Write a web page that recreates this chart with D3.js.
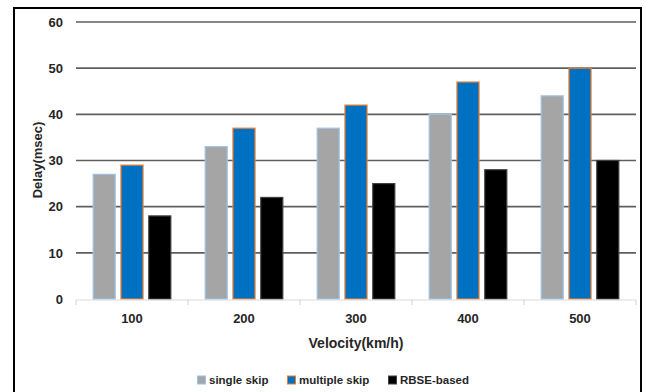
<!DOCTYPE html>
<html>
<head>
<meta charset="utf-8">
<script src="https://cdn.jsdelivr.net/npm/d3@7"></script>
<style>
  html, body { margin: 0; padding: 0; background: #fff; }
  svg { display: block; font-family: "Liberation Sans", Arial, sans-serif; }
</style>
</head>
<body>
<svg id="chart" width="646" height="392"></svg>
<script>
// Velocity categories (km/h)
const categories = ["100", "200", "300", "400", "500"];
// Series names
const seriesNames = ["single skip", "multiple skip", "RBSE-based"];
// Delay (msec) per series, one value per velocity
const singleSkip   = [27, 33, 37, 40, 44];
const multipleSkip = [29, 37, 42, 47, 50];
const rbseBased    = [18, 22, 25, 28, 30];
// Y-axis ticks
const yTicks = [0, 10, 20, 30, 40, 50, 60];

const seriesValues = [singleSkip, multipleSkip, rbseBased];
const fills   = ["#a5a5a5", "#0070c0", "#000000"];
const strokes = ["#9dc3e6", "#ed7d31", "#404040"];

const svg = d3.select("#chart");

// outer frame (open at the bottom)
svg.append("path")
  .attr("d", "M14,392 V8 H641 V392")
  .attr("fill", "none")
  .attr("stroke", "#000")
  .attr("stroke-width", 2);

const plot = { left: 76, right: 636, top: 22, bottom: 299 };

const x0 = d3.scaleBand().domain(categories).range([plot.left, plot.right]).padding(0);
const x1 = d3.scaleBand().domain(seriesNames).range([0, x0.bandwidth()])
  .paddingInner(0.17).paddingOuter(0.6);
const y = d3.scaleLinear().domain([0, 60]).range([plot.bottom, plot.top]);

// horizontal gridlines
svg.append("g")
  .selectAll("line")
  .data(yTicks.filter(t => t > 0))
  .join("line")
  .attr("x1", plot.left).attr("x2", plot.right)
  .attr("y1", d => y(d)).attr("y2", d => y(d))
  .attr("stroke", "#5f5f5f")
  .attr("stroke-width", 1.6);

// y axis labels
const yAxis = d3.axisLeft(y).tickValues(yTicks).tickSize(0).tickPadding(13);
const gy = svg.append("g").attr("transform", `translate(${plot.left},0)`).call(yAxis);
gy.select(".domain").remove();
gy.selectAll("text")
  .attr("font-size", 13).attr("font-weight", "bold").attr("fill", "#262626")
  .attr("font-family", "Liberation Sans, Arial, sans-serif");

// bars
const groups = svg.append("g")
  .selectAll("g")
  .data(categories)
  .join("g")
  .attr("transform", d => `translate(${x0(d)},0)`);

groups.selectAll("rect")
  .data((c, ci) => seriesNames.map((s, si) => ({ s, si, v: seriesValues[si][ci] })))
  .join("rect")
  .attr("x", d => x1(d.s) + 0.5)
  .attr("width", x1.bandwidth() - 1)
  .attr("y", d => y(d.v))
  .attr("height", d => y(0) - y(d.v))
  .attr("fill", d => fills[d.si])
  .attr("stroke", d => strokes[d.si])
  .attr("stroke-width", 1.2);

// x axis (category ticks between groups)
const gx = svg.append("g").attr("transform", `translate(0,${plot.bottom + 1})`);
gx.append("line")
  .attr("x1", plot.left).attr("x2", plot.right)
  .attr("stroke", "#d9d9d9").attr("stroke-width", 1.2);
const boundaries = categories.map(c => x0(c)).concat([x0(categories[categories.length - 1]) + x0.bandwidth()]);
gx.selectAll("line.tick")
  .data(boundaries)
  .join("line")
  .attr("class", "tick")
  .attr("x1", d => d).attr("x2", d => d)
  .attr("y1", 0).attr("y2", 5)
  .attr("stroke", "#d9d9d9").attr("stroke-width", 1.2);
gx.selectAll("text")
  .data(categories)
  .join("text")
  .attr("x", d => x0(d) + x0.bandwidth() / 2)
  .attr("y", 18)
  .attr("dy", "0.35em")
  .attr("text-anchor", "middle")
  .attr("font-size", 13).attr("font-weight", "bold").attr("fill", "#262626")
  .text(d => d);

// axis titles
svg.append("text")
  .attr("x", (plot.left + plot.right) / 2)
  .attr("y", 343)
  .attr("dy", "0.35em")
  .attr("text-anchor", "middle")
  .attr("font-size", 14).attr("font-weight", "bold").attr("fill", "#262626")
  .text("Velocity(km/h)");

svg.append("text")
  .attr("transform", "translate(37,160) rotate(-90)")
  .attr("dy", "0.35em")
  .attr("text-anchor", "middle")
  .attr("font-size", 13).attr("font-weight", "bold").attr("fill", "#262626")
  .text("Delay(msec)");

// legend
const legendX = [197, 287, 388];
const legend = svg.append("g")
  .selectAll("g")
  .data(seriesNames)
  .join("g")
  .attr("transform", (d, i) => `translate(${legendX[i]},380)`);
legend.append("rect")
  .attr("x", 0.5).attr("y", -4).attr("width", 8).attr("height", 8)
  .attr("fill", (d, i) => fills[i])
  .attr("stroke", (d, i) => strokes[i])
  .attr("stroke-width", 1);
legend.append("text")
  .attr("x", 12)
  .attr("dy", "0.35em")
  .attr("font-size", 11.5).attr("font-weight", "bold").attr("fill", "#262626")
  .text(d => d);
</script>
</body>
</html>
